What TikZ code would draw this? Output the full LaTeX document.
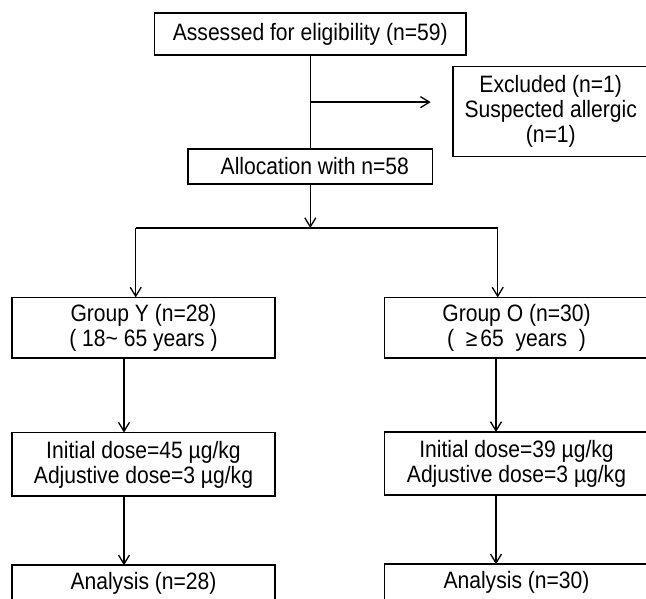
\documentclass[tikz,border=0pt]{standalone}
\usepackage{fontspec}
\setmainfont{Liberation Sans}[FakeStretch=0.89]
\usetikzlibrary{arrows.meta, positioning, calc}

\begin{document}
\begin{tikzpicture}[x=1pt, y=-1pt,
    box/.style={rectangle, draw=black, line width=1.8pt, inner sep=2pt, outer sep=0pt, align=center, font=\fontsize{23.7}{25}\selectfont},
    line/.style={draw=black, line width=1.3pt},
    arrow/.style={line, -{Straight Barb[length=9pt, width=11pt]}}
]

\useasboundingbox (0,0) rectangle (646,599);
\clip (0,0) rectangle (646,599);

% Screening
\node[box, minimum width=311.5pt, minimum height=42.6pt] (assess) at (310.3,34) {Assessed for eligibility (n=59)};

\node[box, minimum width=244.3pt, minimum height=35pt, below=93.7pt of assess] (alloc) {\hspace*{9pt}Allocation with n=58};

\node[box, minimum width=196pt, minimum height=90pt] (excl) at (550.7,111.6) {Excluded (n=1)\\Suspected allergic\\(n=1)};

% Line to Excluded
\draw[line] (assess) -- (alloc);
\coordinate (branch) at ($(assess.south)!0.5!(alloc.north)$);
\draw[arrow] (branch) -- ($(branch -| excl.west)+(-22,0)$);

% Groups
\node[box, minimum width=263.7pt, minimum height=60.5pt] (groupY) at (143.5,327.7) {Group Y (n=28)\\( 18\textasciitilde{} 65 years )};
\node[box, minimum width=264pt, minimum height=60.5pt] (groupO) at (516.5,327.7) {Group O (n=30)\\(\ \ ≥\hspace{3pt}65\ \ years\ \ )};

% Split
\coordinate (split) at ($(alloc.south)+(0,44)$);
\coordinate (inY) at (135.7,0);
\coordinate (inO) at (497.7,0);
\draw[arrow] (alloc) -- (split);
\draw[line] (split -| inY) -- (split -| inO);
\draw[arrow] (split -| inY) -- (groupY.north -| inY);
\draw[arrow] (split -| inO) -- (groupO.north -| inO);

% Dosing
\node[box, minimum width=263.7pt, minimum height=63.7pt, below=74.6pt of groupY] (doseY) {Initial dose=45 µg/kg\\Adjustive dose=3 µg/kg};
\node[box, minimum width=264pt, minimum height=63.3pt, below=74pt of groupO] (doseO) {Initial dose=39 µg/kg\\Adjustive dose=3 µg/kg};

% Analysis
\node[box, minimum width=263.7pt, minimum height=37pt, below=69pt of doseY] (anaY) {Analysis (n=28)};
\node[box, minimum width=264pt, minimum height=37pt, below=69pt of doseO] (anaO) {Analysis (n=30)};

\coordinate (colY) at (124,0);
\coordinate (colO) at (496,0);
\draw[arrow] (groupY.south -| colY) -- (doseY.north -| colY);
\draw[arrow] (groupO.south -| colO) -- (doseO.north -| colO);
\draw[arrow] (doseY.south -| colY) -- (anaY.north -| colY);
\draw[arrow] (doseO.south -| colO) -- (anaO.north -| colO);

\end{tikzpicture}
\end{document}
